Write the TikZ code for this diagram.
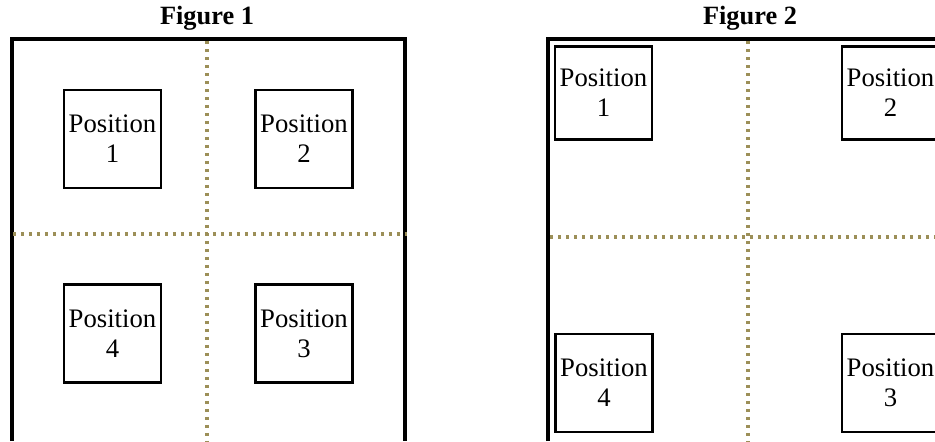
\documentclass[tikz,border=0pt]{standalone}
\usepackage{fontspec}
\setmainfont{Liberation Serif}
\usetikzlibrary{positioning}
\definecolor{PlanOlive}{HTML}{9C8F58}
\definecolor{PlanInk}{HTML}{000000}

\begin{document}
\begin{tikzpicture}[
    x=0.02cm, y=-0.02cm,
    frame/.style={draw=PlanInk, line width=0.075cm},
    divider/.style={draw=PlanOlive, line width=0.065cm, dash pattern=on 0.065cm off 0.095cm},
    spot/.style={draw=PlanInk, line width=0.058cm, minimum width=1.94cm,
      minimum height=1.96cm, inner sep=0pt, align=center,
      font=\fontsize{15.2}{17}\selectfont},
    heading/.style={font=\fontsize{15}{16}\selectfont\bfseries}
  ]
  \useasboundingbox (0,0) rectangle (935,441);
  % Figure 1
  \node[heading] (titleA) at (207,18) {Figure 1};
  \draw[frame] (12,441) -- (12,39) -- (405,39) -- (405,441);
  \draw[divider] (207,41) -- (207,441);
  \draw[divider] (13,234) -- (407,234);
  \node[spot] (a1) at (112.5,139) {Position\\1};
  \node[spot] (a2) at (304,139) {Position\\2};
  \node[spot] (a4) at (112.5,333.5) {Position\\4};
  \node[spot] (a3) at (304,333.5) {Position\\3};
  % Figure 2
  \node[heading] (titleB) at (750,18) {Figure 2};
  \draw[frame] (548,441) -- (548,39) -- (937,39);
  \draw[divider] (748,41) -- (748,441);
  \draw[divider] (550,237) -- (937,237);
  \node[spot, minimum height=1.86cm] (b1) at (603.5,93) {Position\\1};
  \node[spot, minimum height=1.86cm] (b2) at (890.5,93) {Position\\2};
  \node[spot] (b4) at (604,383) {Position\\4};
  \node[spot] (b3) at (890.5,383) {Position\\3};
\end{tikzpicture}
\end{document}
